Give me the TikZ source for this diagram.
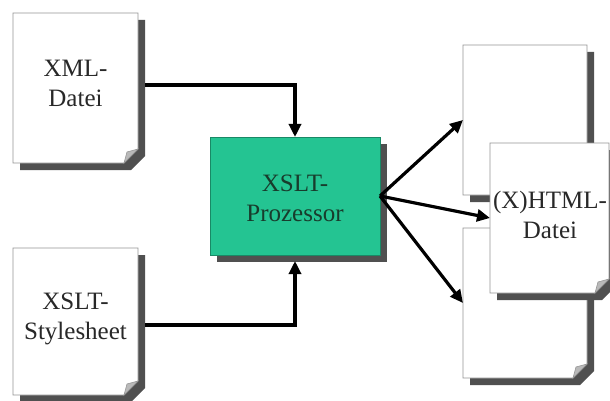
\documentclass[tikz,border=0pt]{standalone}
\usepackage{fontspec}
\setmainfont{Liberation Serif}
\usetikzlibrary{arrows.meta,calc}

\definecolor{procgreen}{RGB}{36,196,146}
\definecolor{proctext}{RGB}{24,60,44}
\definecolor{shadowgray}{RGB}{80,80,80}
\definecolor{edgegray}{RGB}{150,150,150}
\definecolor{labelgray}{RGB}{40,40,40}

\tikzset{
  docnode/.style={inner sep=0pt, outer sep=0pt, draw=none},
  doctext/.style={align=center, text=labelgray, inner sep=0pt,
    font=\fontsize{25}{30}\selectfont},
  procbox/.style={inner sep=0pt, outer sep=0pt, fill=procgreen,
    draw=procgreen!70!black, line width=0.6pt},
  flow/.style={line width=3.2pt, -{Triangle[length=13pt,width=12pt]}},
}

% page with folded lower right corner and drop shadow
\newcommand\docpage[1]{%
  \fill[shadowgray]
    ([xshift=7pt,yshift=-7pt]#1.north west) --
    ([xshift=7pt,yshift=-7pt]#1.north east) --
    ([xshift=7pt,yshift=7pt]#1.south east) --
    ([xshift=-7pt,yshift=-7pt]#1.south east) --
    ([xshift=7pt,yshift=-7pt]#1.south west) -- cycle;
  \filldraw[fill=white, draw=edgegray, line width=0.8pt]
    (#1.north west) -- (#1.north east) --
    ([yshift=14pt]#1.south east) -- ([xshift=-14pt]#1.south east) --
    (#1.south west) -- cycle;
  \filldraw[fill=gray!55, draw=edgegray, line width=0.6pt]
    ([yshift=14pt]#1.south east) -- ([xshift=-14pt]#1.south east) --
    ([xshift=-11pt,yshift=11pt]#1.south east) -- cycle;
}

\begin{document}
\begin{tikzpicture}[x=1pt,y=-1pt]
  \useasboundingbox (0,0) rectangle (610,401);
  \clip (0,0) rectangle (610,401);
  \fill[white] (0,0) rectangle (610,401);

  % inputs
  \node[docnode, minimum width=125pt, minimum height=150pt] (xml) at (75.5,88) {};
  \node[docnode, minimum width=125pt, minimum height=147pt] (xsl) at (75.5,321.5) {};
  % outputs
  \node[docnode, minimum width=124pt, minimum height=150pt] (outa) at (525,120) {};
  \node[docnode, minimum width=124pt, minimum height=150pt] (outc) at (525,303) {};
  \node[docnode, minimum width=119pt, minimum height=150pt] (outb) at (549.5,218) {};

  \docpage{xml}
  \docpage{xsl}
  \docpage{outa}
  \docpage{outc}
  \docpage{outb}

  % processor
  \fill[shadowgray] (217,144) rectangle (387,262);
  \node[procbox, minimum width=170pt, minimum height=118pt] (proc) at (295,196) {};

  % labels
  \node[doctext] (xmltext) at (75.5,83) {XML-\\Datei};
  \node[doctext] (xsltext) at (75.5,319) {XSLT-\\Stylesheet};
  \node[doctext] (outtext) at (550,214.5) {(X)HTML-\\Datei};
  \node[doctext, text=proctext] (proctxt) at (295,198) {XSLT-\\Prozessor};

  % connectors
  \draw[flow] ([xshift=7pt,yshift=3pt]xml.east) -| (proc.north);
  \draw[flow] ([xshift=7pt,yshift=-3.5pt]xsl.east) -| ([yshift=-6pt]proc.south);
  \draw[flow] (proc.east) -- (outa.west);
  \draw[flow] (proc.east) -- (outb.west);
  \draw[flow] (proc.east) -- (outc.west);
\end{tikzpicture}
\end{document}
